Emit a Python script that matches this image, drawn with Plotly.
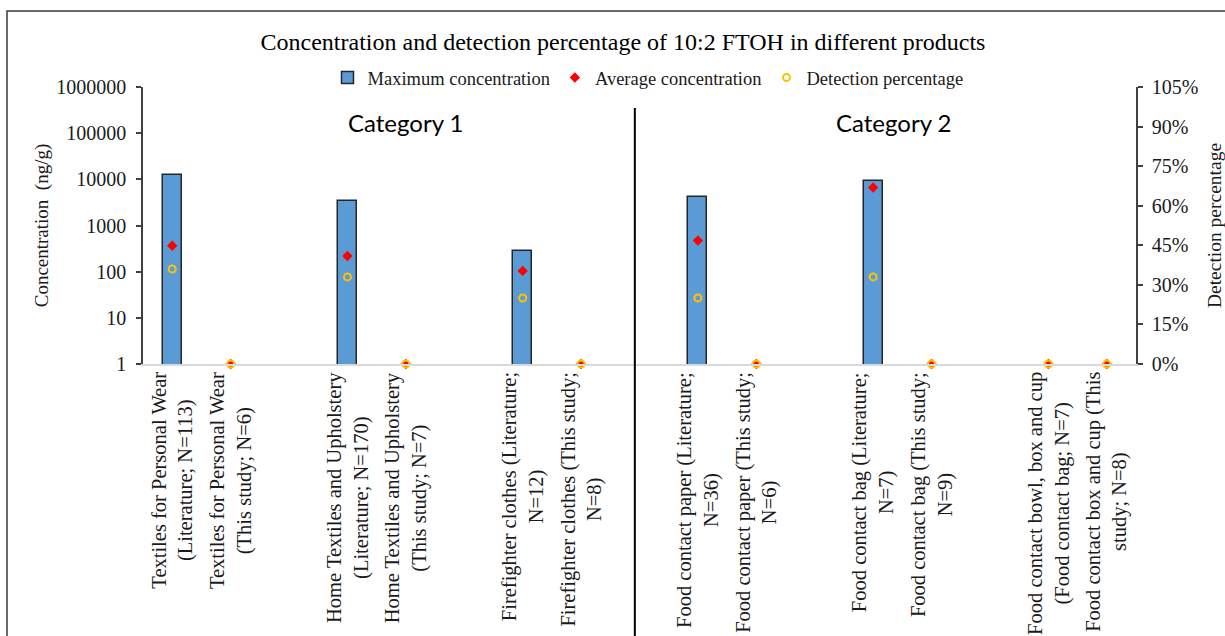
import plotly.graph_objects as go

# Products, in plotting order (Literature / This study pairs)
products = [
    "Textiles for Personal Wear<br>(Literature; N=113)",
    "Textiles for Personal Wear<br>(This study; N=6)",
    "Home Textiles and Upholstery<br>(Literature; N=170)",
    "Home Textiles and Upholstery<br>(This study; N=7)",
    "Firefighter clothes (Literature;<br>N=12)",
    "Firefighter clothes (This study;<br>N=8)",
    "Food contact paper (Literature;<br>N=36)",
    "Food contact paper (This study;<br>N=6)",
    "Food contact bag (Literature;<br>N=7)",
    "Food contact bag (This study;<br>N=9)",
    "Food contact bowl, box and cup<br>(Food contact bag; N=7)",
    "Food contact box and cup (This<br>study; N=8)",
]

# Concentrations in ng/g (0 = not detected)
max_conc = [12300, 0, 3400, 0, 280, 0, 4200, 0, 9100, 0, 0, 0]
avg_conc = [365, 0, 218, 0, 104, 0, 475, 0, 6650, 0, 0, 0]
# Detection frequency (fraction of samples)
detect_pct = [0.36, 0, 0.33, 0, 0.25, 0, 0.25, 0, 0.33, 0, 0, 0]

group_labels = ["Category 1", "Category 2"]

left_ticks = [1, 10, 100, 1000, 10000, 100000, 1000000]
right_ticks = [0, 0.15, 0.30, 0.45, 0.60, 0.75, 0.90, 1.05]

# Slot index of each product on the x axis (blank slot between pairs)
slots = [0, 1, 3, 4, 6, 7, 9, 10, 12, 13, 15, 16]

W, H = 1225, 636
ML, MR, MT, MB = 143, 89, 87, 272
PW, PH = W - ML - MR, H - MT - MB

SERIF = "Liberation Serif"
SANS = "Lato"
INK = "#1a1a1a"


def px_x(px):
    return (px - ML) / PW


def px_y(py):
    return (H - MB - py) / PH


fig = go.Figure()

fig.add_trace(go.Bar(
    x=slots,
    y=[v if v > 0 else None for v in max_conc],
    width=0.325,
    name="Maximum concentration",
    marker=dict(color="#5B9BD5", line=dict(color="#262626", width=1.5)),
))

# Non-detects rest on the floor of the log axis (1 ng/g)
fig.add_trace(go.Scatter(
    x=slots,
    y=[v if v > 0 else 1 for v in avg_conc],
    mode="markers",
    name="Average concentration",
    marker=dict(symbol="diamond", size=8, color="#FF0000"),
    cliponaxis=False,
))

fig.add_trace(go.Scatter(
    x=slots,
    y=detect_pct,
    yaxis="y2",
    mode="markers",
    name="Detection percentage",
    marker=dict(symbol="circle-open", size=7, color="#FFC000",
                line=dict(width=2, color="#FFC000")),
    cliponaxis=False,
))

annotations = []
for s, lab in zip(slots, products):
    annotations.append(dict(
        x=s, y=0, xref="x", yref="paper", text=lab, showarrow=False,
        textangle=-90, xanchor="center", yanchor="top", yshift=-6,
        align="center", font=dict(family=SERIF, size=20.5, color=INK),
    ))
for gx, g in zip([4, 12.35], group_labels):
    annotations.append(dict(
        x=gx, y=px_y(122), xref="x", yref="paper", text=g, showarrow=False,
        xanchor="center", yanchor="middle",
        font=dict(family=SANS, size=24, color="#000000"),
    ))

shapes = [
    # divider between the two product categories
    dict(type="line", xref="x", yref="paper", x0=7.92, x1=7.92,
         y0=px_y(H + 5), y1=px_y(108), line=dict(color="#000000", width=2)),
    # chart frame
    dict(type="rect", xref="paper", yref="paper", x0=px_x(7), x1=px_x(W + 20),
         y0=px_y(H + 20), y1=px_y(11), line=dict(color="#3a3a3a", width=1.5)),
]

fig.update_layout(
    width=W, height=H,
    margin=dict(l=ML, r=MR, t=MT, b=MB, autoexpand=False),
    paper_bgcolor="white", plot_bgcolor="white",
    font=dict(family=SERIF, size=18, color=INK),
    title=dict(
        text="Concentration and detection percentage of 10:2 FTOH in different products",
        x=623 / W, xref="container", xanchor="center",
        y=1 - 42 / H, yref="container", yanchor="middle",
        font=dict(family=SERIF, size=24, color="#000000"),
    ),
    legend=dict(
        orientation="h", x=px_x(648), xanchor="center", y=px_y(78), yanchor="middle",
        font=dict(family=SERIF, size=18.5, color=INK), bgcolor="rgba(0,0,0,0)",
        itemwidth=30,
    ),
    showlegend=True,
    bargap=0,
    xaxis=dict(
        range=[-0.5, 16.5], showticklabels=False, ticks="", showgrid=False,
        zeroline=False, showline=True, linecolor="#d9d9d9", linewidth=1.5,
        automargin=False,
    ),
    yaxis=dict(
        type="log", range=[0, 6], tickvals=left_ticks,
        ticktext=[str(v) for v in left_ticks],
        ticks="outside", ticklen=5, tickcolor="#404040", tickwidth=1.5,
        ticklabelstandoff=6, automargin=False,
        showline=True, linecolor="#404040", linewidth=1.5,
        showgrid=False, zeroline=False,
        tickfont=dict(family=SERIF, size=20, color=INK),
        title=dict(text="Concentration\u00a0 (ng/g)", standoff=3,
                   font=dict(family=SERIF, size=19, color=INK)),
    ),
    yaxis2=dict(
        overlaying="y", side="right", range=[0, 1.05], tickvals=right_ticks,
        tickformat=".0%", ticks="outside", ticklen=5, tickcolor="#404040", tickwidth=1.5,
        ticklabelstandoff=5, automargin=False,
        showline=True, linecolor="#404040", linewidth=1.5,
        showgrid=False, zeroline=False,
        tickfont=dict(family=SERIF, size=20, color=INK),
        title=dict(text="Detection percentage", standoff=10,
                   font=dict(family=SERIF, size=19.5, color=INK)),
    ),
    annotations=annotations,
    shapes=shapes,
)

fig.write_html("out.html")
